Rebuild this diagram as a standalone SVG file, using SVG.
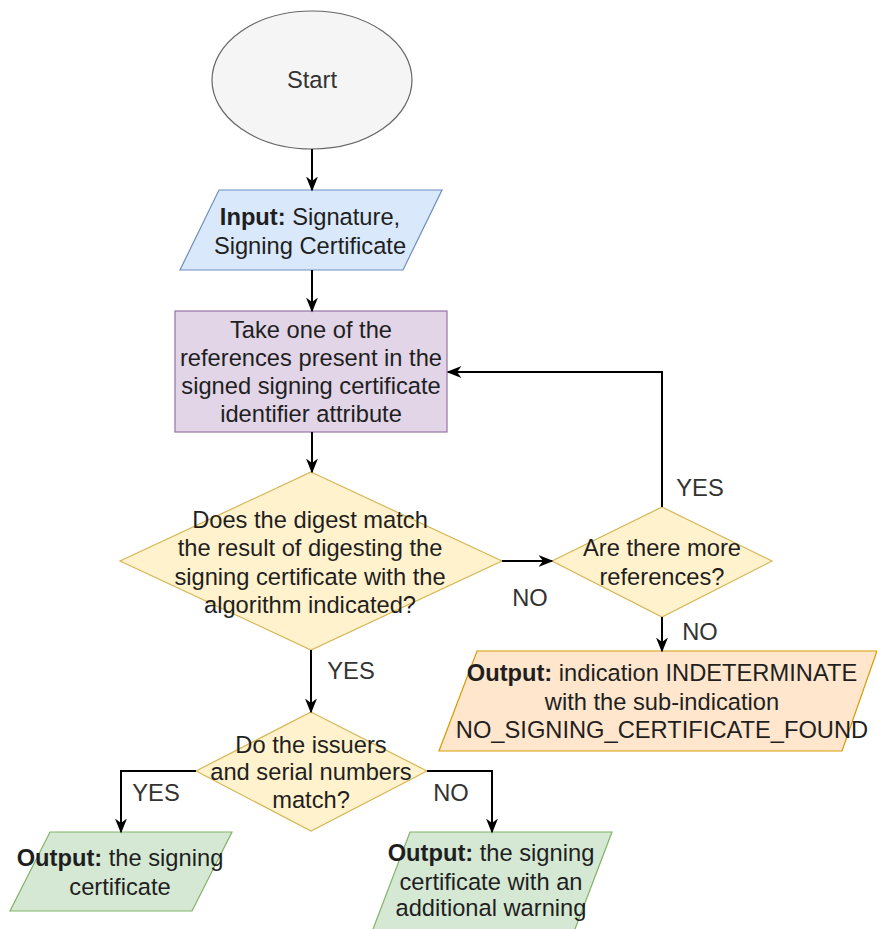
<svg xmlns="http://www.w3.org/2000/svg" width="877" height="929" viewBox="0 0 877 929">
<style>
text{font-family:"Liberation Sans",Arial,Helvetica,sans-serif;font-size:23.7px;fill:#1f1f1f;text-anchor:middle}
.b{font-weight:bold}
.edge{fill:none;stroke:#000;stroke-width:2}
.lbl{fill:#333}
</style>
<defs>
<marker id="arr" viewBox="0 0 10 10" refX="9" refY="5" markerWidth="15" markerHeight="15" markerUnits="userSpaceOnUse" orient="auto">
<path d="M0,1 L10,5 L0,9 L3,5 z" fill="#000"/>
</marker>
</defs>
<rect width="877" height="929" fill="#fff"/>
<g id="start">
<ellipse cx="312" cy="80" rx="100" ry="69" fill="#f5f5f5" stroke="#666" stroke-width="1.2"/>
<text x="312" y="88" style="fill:#333">Start</text>
</g>
<g id="input">
<polygon points="219,190 442,190 403,270 180,270" fill="#dae8fc" stroke="#6c8ebf" stroke-width="1.2"/>
<text x="310" y="225"><tspan class="b">Input:</tspan> Signature,</text>
<text x="310" y="254">Signing Certificate</text>
</g>
<g id="take">
<rect x="175" y="311" width="272" height="121" fill="#e1d5e7" stroke="#9673a6" stroke-width="1.2"/>
<text x="311" y="338">Take one of the</text>
<text x="311" y="366">references present in the</text>
<text x="311" y="394">signed signing certificate</text>
<text x="311" y="422">identifier attribute</text>
</g>
<g id="digest">
<polygon points="311,472 502,561 311,650 120,561" fill="#fff2cc" stroke="#d6b656" stroke-width="1.2"/>
<text x="310" y="528">Does the digest match</text>
<text x="310" y="556">the result of digesting the</text>
<text x="310" y="585">signing certificate with the</text>
<text x="310" y="613">algorithm indicated?</text>
</g>
<g id="more">
<polygon points="662,507 772,561 662,617 552,561" fill="#fff2cc" stroke="#d6b656" stroke-width="1.2"/>
<text x="662" y="556">Are there more</text>
<text x="662" y="585">references?</text>
</g>
<g id="indeterminate">
<polygon points="477,651 877,651 842,751 439,751" fill="#ffe6cc" stroke="#d79b00" stroke-width="1.2"/>
<text x="662" y="681"><tspan class="b">Output:</tspan> indication INDETERMINATE</text>
<text x="662" y="710">with the sub-indication</text>
<text x="662" y="738">NO_SIGNING_CERTIFICATE_FOUND</text>
</g>
<g id="issuers">
<polygon points="311,712 427,771 311,831 196,771" fill="#fff2cc" stroke="#d6b656" stroke-width="1.2"/>
<text x="311" y="753">Do the issuers</text>
<text x="311" y="780">and serial numbers</text>
<text x="311" y="808">match?</text>
</g>
<g id="out-cert">
<polygon points="50,832 232,832 192,911 10,911" fill="#d5e8d4" stroke="#82b366" stroke-width="1.2"/>
<text x="120" y="866"><tspan class="b">Output:</tspan> the signing</text>
<text x="120" y="895">certificate</text>
</g>
<g id="out-warn">
<polygon points="410,832 612,832 572,937 370,937" fill="#d5e8d4" stroke="#82b366" stroke-width="1.2"/>
<text x="491" y="861"><tspan class="b">Output:</tspan> the signing</text>
<text x="491" y="890">certificate with an</text>
<text x="491" y="916">additional warning</text>
</g>
<g id="connectors">
<path class="edge" d="M312,149 L312,190" marker-end="url(#arr)"/>
<path class="edge" d="M312,270 L312,311" marker-end="url(#arr)"/>
<path class="edge" d="M312,432 L312,472" marker-end="url(#arr)"/>
<path class="edge" d="M502,561 L552,561" marker-end="url(#arr)"/>
<path class="edge" d="M662,507 L662,372 L448,372" marker-end="url(#arr)"/>
<path class="edge" d="M662,617 L662,651" marker-end="url(#arr)"/>
<path class="edge" d="M311,650 L311,712" marker-end="url(#arr)"/>
<path class="edge" d="M196,771 L121,771 L121,832" marker-end="url(#arr)"/>
<path class="edge" d="M427,771 L492,771 L492,832" marker-end="url(#arr)"/>
<text class="lbl" x="351" y="679">YES</text>
<text class="lbl" x="530" y="606">NO</text>
<text class="lbl" x="700" y="496">YES</text>
<text class="lbl" x="700" y="640">NO</text>
<text class="lbl" x="156" y="801">YES</text>
<text class="lbl" x="451" y="801">NO</text>
</g>
</svg>
